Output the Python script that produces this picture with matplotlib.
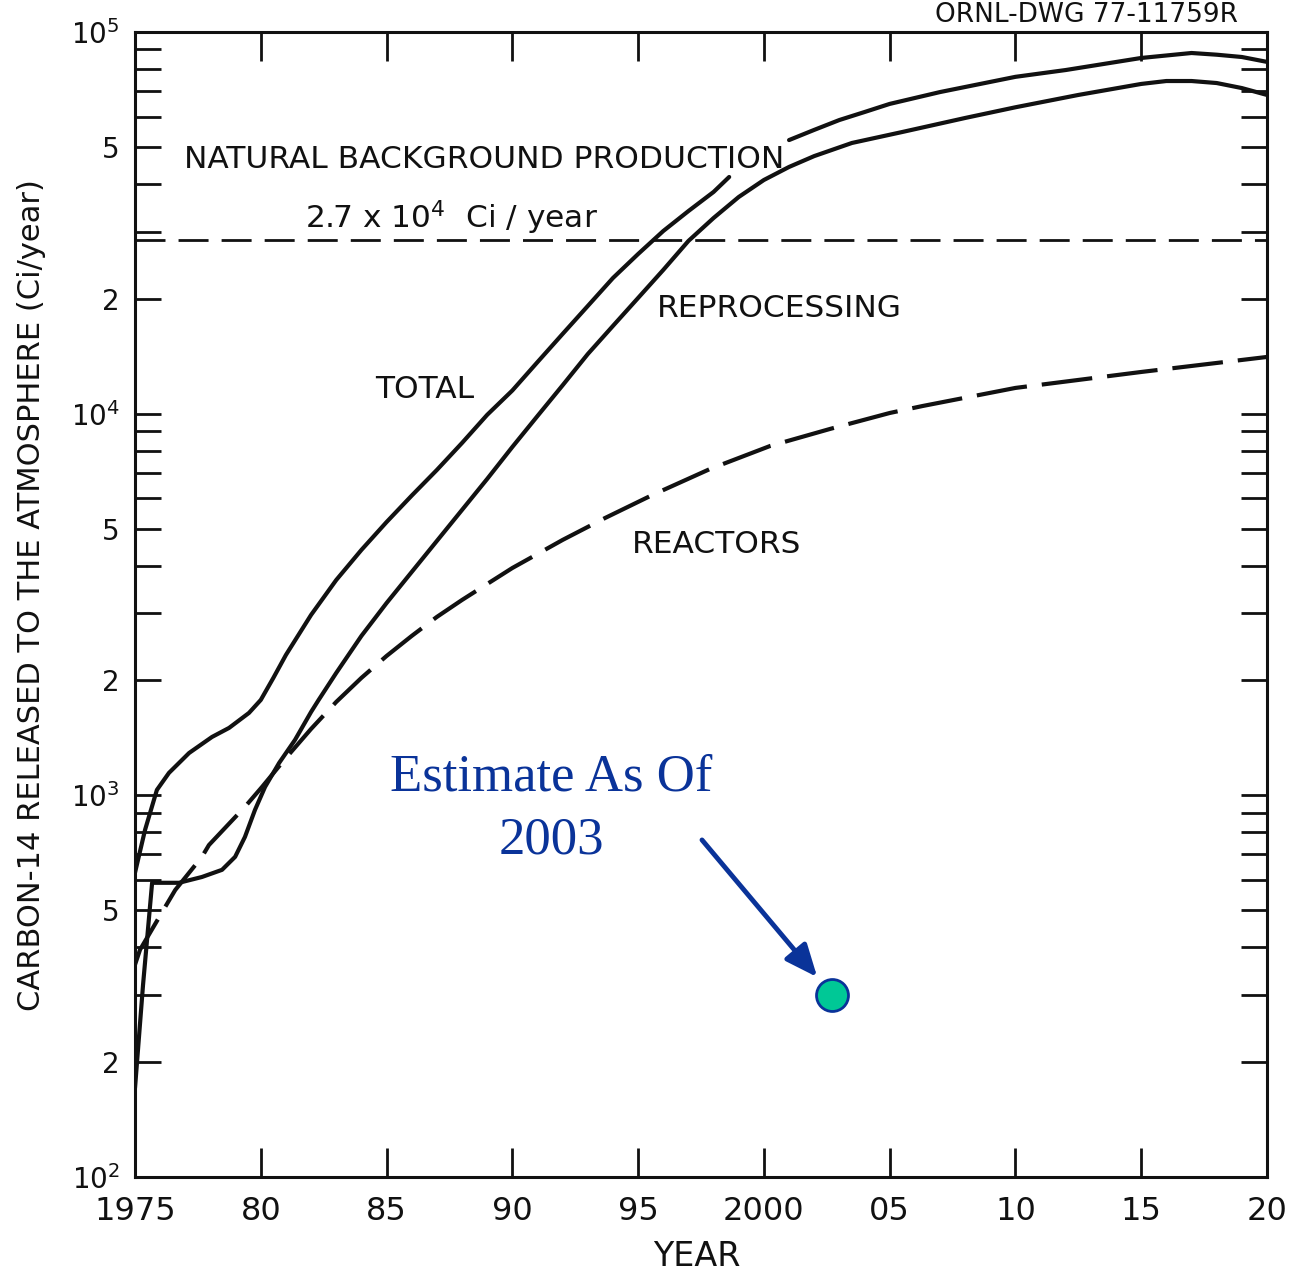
import numpy as np
import matplotlib
matplotlib.use("Agg")
import matplotlib.pyplot as plt
from matplotlib.ticker import FixedLocator, FuncFormatter

plt.rcParams['font.family'] = ['DejaVu Sans']
plt.rcParams['mathtext.fontset'] = 'dejavusans'

# ---------------- data ----------------
TOTAL_YEARS = [1975.0, 1975.4, 1975.87, 1976.35, 1977.15, 1978.06, 1978.74, 1979.53, 1980.0,
               1980.5, 1981, 1982, 1983, 1984, 1985, 1986, 1987, 1988, 1989, 1990, 1991, 1992,
               1993, 1994, 1995, 1996, 1997, 1998, 1998.62, 2001.0, 2002, 2003, 2004,
               2005, 2007, 2010, 2012, 2015, 2017, 2018, 2019, 2020]
TOTAL_VALUES = [627, 812, 1033, 1145, 1291, 1422, 1502, 1644, 1778,
                2031, 2333, 2970, 3666, 4395, 5200, 6100, 7120, 8380, 9930, 11500, 13650, 16180,
                19150, 22670, 26200, 30100, 33950, 38100, 41700, 52100, 55400, 58800, 61700,
                64800, 69600, 76300, 79500, 85500, 88100, 87200, 86000, 83500]
TOTAL_GAP = (1998.62, 2001.0)   # break in the curve behind the label

REPROC_YEARS = [1975.0, 1975.32, 1975.68, 1976.75, 1977.66, 1978.46, 1978.98, 1979.37, 1979.77,
                1980.17, 1980.73, 1981.36, 1982.0, 1982.3, 1983, 1984, 1985, 1986, 1987, 1988,
                1989, 1990, 1991, 1992, 1993, 1994, 1995, 1996, 1997, 1998, 1999, 2000,
                2001, 2002, 2003.5, 2005.5, 2008, 2010, 2012.5, 2015, 2016, 2017, 2018,
                2019, 2020]
REPROC_VALUES = [171, 319, 590, 590, 611, 638, 690, 778, 916,
                 1052, 1216, 1397, 1654, 1778, 2093, 2616, 3190, 3848, 4640, 5595,
                 6745, 8180, 9860, 11870, 14330, 16980, 20100, 23800, 28350, 32560, 36960, 40950,
                 44300, 47300, 51200, 54700, 59530, 63500, 68400, 73100, 74400, 74400, 73500,
                 71300, 68400]

REACT_YEARS = [1975.0, 1975.2, 1976.2, 1976.6, 1977.66, 1977.94, 1979.37, 1980.05, 1981,
               1982, 1983, 1984, 1985, 1986, 1987, 1988, 1989, 1990, 1991, 1992, 1993.69,
               1995.56, 1997.86, 2000.25, 2002.63, 2005.0, 2006.3, 2010, 2015, 2020]
REACT_VALUES = [360, 394, 510, 565, 690, 741, 933, 1052, 1253,
                1493, 1757, 2031, 2318, 2616, 2934, 3250, 3579, 3941, 4289, 4669, 5330,
                6120, 7163, 8230, 9120, 10040, 10470, 11680, 12860, 14080]

BACKGROUND = 2.85e4          # natural background production line

ESTIMATE_YEAR = 2002.7
ESTIMATE_VALUE = 300

X_TICKS = [1975, 1980, 1985, 1990, 1995, 2000, 2005, 2010, 2015, 2020]
X_TICK_LABELS = ['1975', '80', '85', '90', '95', '2000', '05', '10', '15', '20']

# ---------------- figure ----------------
W, H = 1294, 1274
fig = plt.figure(figsize=(W / 100, H / 100), dpi=100)
ax = fig.add_axes([135 / W, 97 / H, (1267 - 135) / W, (1242 - 97) / H])
ax.set_yscale('log')
ax.set_xlim(1975, 2020)
ax.set_ylim(100, 1e5)

ink = '#111111'
ty = np.array(TOTAL_YEARS)
tv = np.array(TOTAL_VALUES, dtype=float)
left = ty <= TOTAL_GAP[0]
right = ty >= TOTAL_GAP[1]
ax.plot(ty[left], tv[left], color=ink, lw=3.0, solid_capstyle='round',
        solid_joinstyle='round', zorder=3)
ax.plot(ty[right], tv[right], color=ink, lw=3.0, solid_capstyle='round',
        solid_joinstyle='round', zorder=3)

ax.plot(REPROC_YEARS, REPROC_VALUES, color=ink, lw=3.0, solid_capstyle='round',
        solid_joinstyle='round', zorder=3)
ax.plot(REACT_YEARS, REACT_VALUES, color=ink, lw=3.0, dashes=(12.2, 3.6), zorder=3)
ax.axhline(BACKGROUND, color=ink, lw=2.0, dashes=(10.8, 4.7), zorder=2)

# estimate point and annotation
blue = '#0A3399'
ax.plot([ESTIMATE_YEAR], [ESTIMATE_VALUE], 'o', ms=23, mfc='#00C896', mec=blue,
        mew=2, zorder=5)
ax.annotate('', xy=(2002.12, 334), xytext=(1997.54, 764),
            arrowprops=dict(arrowstyle='-|>,head_length=0.7,head_width=0.3', color=blue,
                            lw=3.5, mutation_scale=28, shrinkA=0, shrinkB=0), zorder=4)
ax.text(1991.54, 706, 'Estimate As Of\n2003', family=['Liberation Serif', 'DejaVu Serif'],
        fontsize=38, color=blue, ha='center', va='baseline', multialignment='center',
        linespacing=1.38)

# curve labels
lab = dict(fontsize=22.5, color=ink)
ax.text(1988.88, 44030, 'NATURAL BACKGROUND PRODUCTION', ha='center', va='baseline', **lab)
ax.text(1987.6, 30660, r'2.7 x 10$^{4}$  Ci / year', ha='center', va='baseline', **lab)
ax.text(1995.76, 17920, 'REPROCESSING', ha='left', va='baseline', **lab)
ax.text(1984.54, 11000, 'TOTAL', ha='left', va='baseline', **lab)
ax.text(1994.76, 4315, 'REACTORS', ha='left', va='baseline', **lab)

# ticks
ax.xaxis.set_major_locator(FixedLocator(X_TICKS))
ax.set_xticklabels(X_TICK_LABELS)
yt = [m * 10.0 ** e for e in range(2, 5) for m in range(1, 10)] + [1e5]
ax.yaxis.set_major_locator(FixedLocator(yt))
ax.yaxis.set_minor_locator(FixedLocator([]))


def yfmt(v, pos):
    e = int(np.floor(np.log10(v) + 1e-9))
    m = v / 10 ** e
    if abs(m - 1) < 1e-6:
        return r'$10^{%d}$' % e
    if abs(m - 2) < 1e-6:
        return '2'
    if abs(m - 5) < 1e-6:
        return '5'
    return ''


ax.yaxis.set_major_formatter(FuncFormatter(yfmt))
ax.tick_params(axis='x', which='both', direction='in', top=True, length=21, width=2,
               labelsize=23, pad=14, colors=ink)
ax.tick_params(axis='y', which='both', direction='in', right=True, length=19, width=2,
               labelsize=20, pad=11, colors=ink)
for s in ax.spines.values():
    s.set_linewidth(2.2)
    s.set_color(ink)

# axis titles
fig.text(32 / W, 1 - 595 / H, 'CARBON-14 RELEASED TO THE ATMOSPHERE (Ci/year)', rotation=90,
         ha='center', va='center', fontsize=22, color=ink)
fig.text(697 / W, 1 - 1257 / H, 'YEAR', ha='center', va='center', fontsize=24, color=ink)
fig.text(935 / W, 1 - 2 / H, 'ORNL-DWG 77-11759R', ha='left', va='top', fontsize=19,
         color=ink)

fig.savefig('out.png', dpi=100, facecolor='white')
